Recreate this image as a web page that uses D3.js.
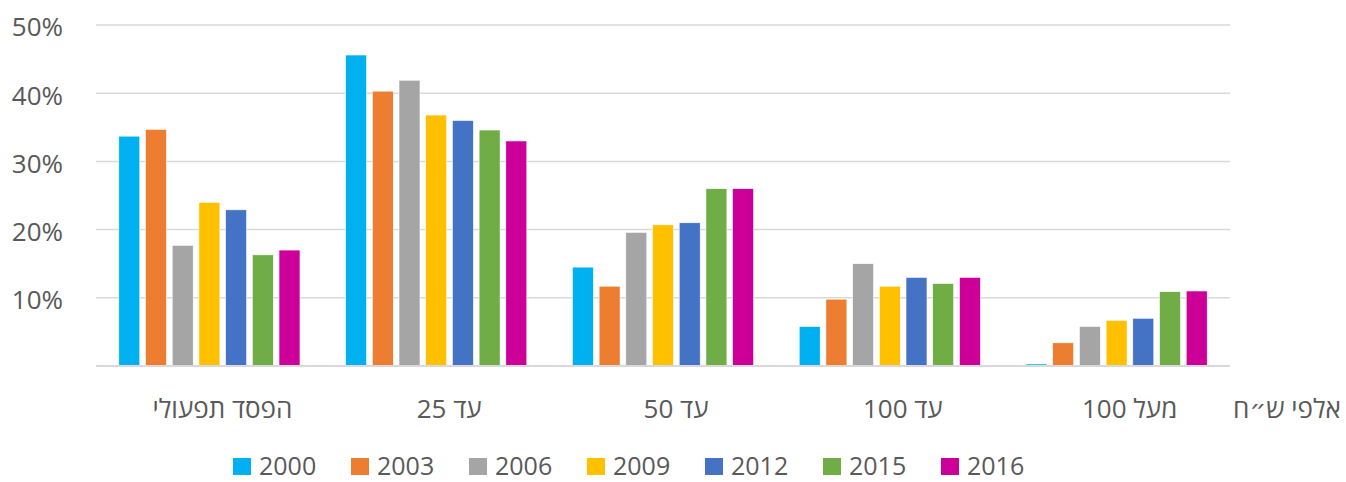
<!DOCTYPE html>
<html>
<head>
<meta charset="utf-8">
<script src="https://cdn.jsdelivr.net/npm/d3@7"></script>
<style>
html,body{margin:0;padding:0;background:#fff;}
svg{display:block;}
text{font-family:"Open Sans","DejaVu Sans",sans-serif;fill:#595959;}
</style>
</head>
<body>
<svg id="chart" width="1346" height="482"></svg>
<script>
const categories = ["הפסד תפעולי", "עד 25", "עד 50", "עד 100", "מעל 100"];
const years = ["2000", "2003", "2006", "2009", "2012", "2015", "2016"];
const colors = ["#00b0f0", "#ed7d31", "#a5a5a5", "#ffc000", "#4472c4", "#70ad47", "#cc0099"];
const s2000 = [33.7, 45.6, 14.5, 5.8, 0.3];
const s2003 = [34.7, 40.3, 11.7, 9.8, 3.4];
const s2006 = [17.7, 41.9, 19.6, 15.0, 5.8];
const s2009 = [24.0, 36.8, 20.7, 11.7, 6.7];
const s2012 = [22.9, 36.0, 21.0, 13.0, 7.0];
const s2015 = [16.3, 34.6, 26.0, 12.1, 10.9];
const s2016 = [17.0, 33.0, 26.0, 13.0, 11.0];
const yTicks = [10, 20, 30, 40, 50];
const unitLabel = "אלפי ש״ח";

const series = [s2000, s2003, s2006, s2009, s2012, s2015, s2016];
const FONT = "\"Open Sans\",\"DejaVu Sans\",sans-serif";

const svg = d3.select("#chart");
const mLeft = 96, mRight = 1230, mTop = 25, mBottom = 366;

const y = d3.scaleLinear().domain([0, 50]).range([mBottom, mTop]);
const x0 = d3.scaleBand().domain(categories).range([mLeft, mRight]).padding(0);
const x1 = d3.scaleBand().domain(years).range([0, x0.bandwidth()]).paddingInner(0.214).paddingOuter(0.854);

// gridlines
svg.append("g").selectAll("line").data(yTicks).join("line")
  .attr("x1", mLeft).attr("x2", mRight)
  .attr("y1", d => y(d)).attr("y2", d => y(d))
  .attr("stroke", "#d9d9d9").attr("stroke-width", 1.5);

// y labels
const yAxis = d3.axisLeft(y).tickValues(yTicks).tickFormat(d => d + "%").tickSize(0).tickPadding(0);
const yg = svg.append("g").attr("transform", `translate(63,0)`).call(yAxis);
yg.select(".domain").remove();
yg.selectAll("text").attr("font-size", 26).style("font-family", FONT).attr("fill", "#595959").attr("dy", "0.42em");

// bars
const groups = svg.append("g").selectAll("g").data(categories).join("g")
  .attr("transform", d => `translate(${x0(d)},0)`);
groups.selectAll("rect").data((c, ci) => years.map((yr, si) => ({yr, v: series[si][ci], color: colors[si]})))
  .join("rect")
  .attr("x", d => x1(d.yr))
  .attr("width", x1.bandwidth())
  .attr("y", d => y(d.v))
  .attr("height", d => mBottom - y(d.v))
  .attr("fill", d => d.color)
  .attr("stroke", "#fff").attr("stroke-width", 0.6);

// baseline
svg.append("line").attr("x1", mLeft).attr("x2", mRight).attr("y1", mBottom).attr("y2", mBottom)
  .attr("stroke", "#d9d9d9").attr("stroke-width", 2);

// x labels
const xAxis = d3.axisBottom(x0).tickSize(0).tickPadding(0);
const xg = svg.append("g").attr("transform", `translate(13,418)`).call(xAxis);
xg.select(".domain").remove();
xg.selectAll("text").attr("font-size", 26).attr("dy", 0).attr("y", 0).attr("direction", "rtl")
  .style("font-family", FONT).attr("fill", "#595959");

svg.append("text").attr("x", 1287).attr("y", 418)
  .attr("text-anchor", "middle").attr("direction", "rtl").attr("font-size", 26).text(unitLabel);

// legend
const legend = svg.append("g").selectAll("g").data(years).join("g")
  .attr("transform", (d, i) => `translate(${233 + i * 118},0)`);
legend.append("rect").attr("x", 0).attr("y", 458).attr("width", 18).attr("height", 17)
  .attr("fill", (d, i) => colors[i]);
legend.append("text").attr("x", 26).attr("y", 475).attr("font-size", 25).text(d => d);
</script>
</body>
</html>
